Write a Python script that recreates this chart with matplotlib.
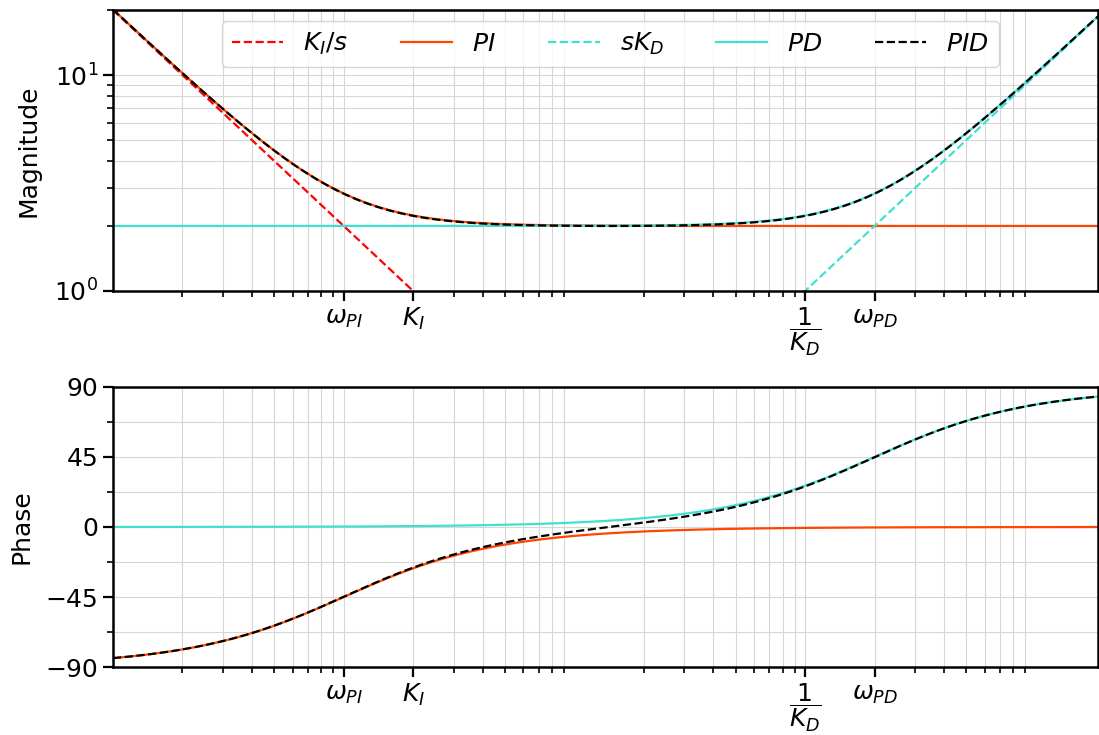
import numpy as np
import matplotlib
matplotlib.use("Agg")
import matplotlib.pyplot as plt
from matplotlib.ticker import FixedLocator, LogLocator, MultipleLocator, NullFormatter

# Controller parameters
Kp = 2.0          # proportional gain (flat level of PI / PD magnitude)
Ki = 2.0          # integral gain  -> K_I tick, w_PI = Ki/Kp
Kd = 0.01         # derivative gain -> 1/K_D tick, w_PD = Kp/Kd
w_min, w_max = 0.1, 1860.0

w_PI = Ki / Kp
w_PD = Kp / Kd
tick_pos = [w_PI, Ki, 1.0 / Kd, w_PD]
tick_labels = [r'$\omega_{PI}$', r'$K_I$', r'$\dfrac{1}{K_D}$', r'$\omega_{PD}$']
mag_ylim = (1.0, 20.0)
phase_ticks = [-90, -45, 0, 45, 90]

w = np.logspace(np.log10(w_min), np.log10(w_max), 600)
s = 1j * w
I_term = Ki / s
PI = Kp + Ki / s
D_term = s * Kd
PD = Kp + s * Kd
PID = Kp + Ki / s + s * Kd

c_I = '#ff0000'
c_PI = '#ff4500'
c_D = '#40e0d0'
c_PID = 'black'

FS = 18
plt.rcParams['font.size'] = FS
plt.rcParams['mathtext.fontset'] = 'dejavusans'

fig = plt.figure(figsize=(10.99, 7.35), dpi=100)
ax1 = fig.add_axes([0.1028, 0.6041, 0.8963, 0.3823])
ax2 = fig.add_axes([0.1028, 0.0925, 0.8963, 0.3810])

lw = 1.6
ax1.loglog(w, np.abs(I_term), '--', color=c_I, lw=lw, label=r'$K_I/s$')
ax1.loglog(w, np.abs(PI), '-', color=c_PI, lw=lw, label=r'$PI$')
ax1.loglog(w, np.abs(D_term), '--', color=c_D, lw=lw, label=r'$sK_D$')
ax1.loglog(w, np.abs(PD), '-', color=c_D, lw=lw, label=r'$PD$')
ax1.loglog(w, np.abs(PID), '--', color=c_PID, lw=lw, label=r'$PID$')
ax1.set_ylim(*mag_ylim)
ax1.set_ylabel('Magnitude', labelpad=10)
ax1.legend(loc='upper center', ncol=5, fontsize=FS, handlelength=2.05,
           columnspacing=2.1, bbox_to_anchor=(0.505, 1.0), borderaxespad=0.45)

ax2.semilogx(w, np.degrees(np.angle(PI)), '-', color=c_PI, lw=lw)
ax2.semilogx(w, np.degrees(np.angle(PD)), '-', color=c_D, lw=lw)
ax2.semilogx(w, np.degrees(np.angle(PID)), '--', color=c_PID, lw=lw)
ax2.set_ylim(-90, 90)
ax2.set_yticks(phase_ticks)
ax2.yaxis.set_minor_locator(MultipleLocator(22.5))
ax2.set_ylabel('Phase', labelpad=9)

for ax in (ax1, ax2):
    ax.set_xlim(w_min, w_max)
    ax.xaxis.set_major_locator(FixedLocator(tick_pos))
    ax.set_xticklabels(tick_labels)
    ax.xaxis.set_minor_locator(LogLocator(base=10, subs=np.arange(2, 10)))
    ax.xaxis.set_minor_formatter(NullFormatter())
    ax.grid(True, which='both', color='0.84', lw=0.8)
    ax.set_axisbelow(True)
    for sp in ax.spines.values():
        sp.set_linewidth(1.8)
    ax.tick_params(which='major', length=7, width=1.6, labelsize=FS)
    ax.tick_params(which='minor', length=4, width=1.2)

fig.savefig('out.png', dpi=100)
